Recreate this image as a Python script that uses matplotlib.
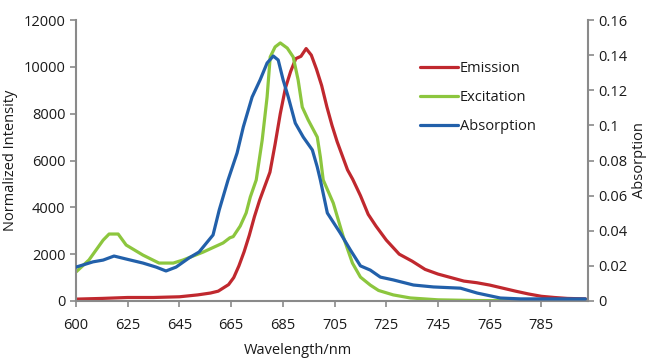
import matplotlib
matplotlib.use("Agg")
import matplotlib.pyplot as plt
import numpy as np

plt.rcParams['font.family'] = ['Open Sans', 'DejaVu Sans']

# ---- data ----
em_x = [605, 615, 625, 635, 645, 652, 657, 660, 662, 664, 666, 668, 670, 672, 674, 676, 678,
        680, 682, 684, 686, 688, 690, 692, 694, 696, 698, 700, 702, 704, 706, 708, 710, 712,
        715, 718, 721, 725, 730, 735, 740, 745, 750, 755, 760, 765, 770, 775, 780, 785, 790,
        795, 802]
em_y = [80, 110, 150, 150, 180, 260, 340, 420, 560, 700, 1000, 1500, 2100, 2800, 3600, 4300,
        4900, 5500, 6700, 8000, 9100, 9800, 10350, 10450, 10780, 10500, 9900, 9200, 8300, 7500,
        6800, 6200, 5600, 5200, 4500, 3700, 3200, 2600, 2000, 1700, 1350, 1150, 1000, 850, 780,
        680, 550, 420, 300, 200, 150, 110, 90]

ex_x = [605, 610, 615.5, 617.8, 621.3, 624.4, 630.9, 637.1, 642.6, 646.4, 654.2, 661.9, 664.5,
        665.8, 668.5, 670.8, 672.4, 674.7, 677, 678.9, 680.1, 682, 684, 686.7, 689, 690.9,
        692.5, 694.8, 698.3, 699.5, 700.6, 704.5, 708.4, 711.9, 715, 718.8, 722, 727.7, 734.3,
        745, 760, 780, 802]
ex_y = [1240, 1750, 2600, 2860, 2860, 2390, 1960, 1620, 1620, 1750, 2090, 2480, 2700, 2750,
        3200, 3760, 4440, 5170, 6870, 8710, 10420, 10850, 11020, 10800, 10420, 9440, 8280,
        7730, 7000, 6150, 5170, 4180, 2730, 1620, 1020, 680, 450, 260, 130, 50, 20, 10, 0]

ab_x = [605, 611.6, 615.5, 619.7, 624.4, 630.9, 636, 639.8, 643.7, 648.7, 652.6, 658, 660.4,
        663.8, 667.3, 669.7, 673.1, 676.2, 678.9, 681.3, 683.2, 685.1, 687.1, 689.8, 692.9,
        696.4, 698.3, 699.5, 702.2, 707.2, 711.1, 715, 718.8, 722.7, 727.7, 735.5, 743.2,
        753.7, 760.2, 769.1, 776.9, 802]
ab_y = [0.0193, 0.0223, 0.0233, 0.0256, 0.0239, 0.0216, 0.0193, 0.0171, 0.0193, 0.0245,
        0.0279, 0.0376, 0.0519, 0.0689, 0.0843, 0.0991, 0.1161, 0.1259, 0.1355, 0.1395,
        0.1372, 0.1259, 0.1161, 0.1013, 0.0933, 0.0860, 0.0763, 0.0689, 0.0501, 0.0387,
        0.0291, 0.0200, 0.0176, 0.0136, 0.0120, 0.0091, 0.0080, 0.0073, 0.0045, 0.0017,
        0.0012, 0.0012]

xtick_pos = [605, 625, 645, 665, 685, 705, 725, 745, 765, 785]
xtick_lab = ['600', '625', '645', '665', '685', '705', '725', '745', '765', '785']
ytick_left = [0, 2000, 4000, 6000, 8000, 10000, 12000]
ytick_right = [0, 0.02, 0.04, 0.06, 0.08, 0.1, 0.12, 0.14, 0.16]
ytick_right_lab = ['0', '0.02', '0.04', '0.06', '0.08', '0.1', '0.12', '0.14', '0.16']

c_red = '#c0282e'
c_green = '#8cc63e'
c_blue = '#2260aa'
spine_c = '#8a8a8a'
text_c = '#1a1a1a'

fig = plt.figure(figsize=(6.49, 3.60), dpi=100)
ax = fig.add_axes([76/649, 1-301/360, (588-76)/649, (301-20)/360])
ax2 = ax.twinx()

l1, = ax.plot(em_x, em_y, color=c_red, lw=2.3, label='Emission', solid_capstyle='round')
l2, = ax.plot(ex_x, ex_y, color=c_green, lw=2.3, label='Excitation', solid_capstyle='round')
l3, = ax2.plot(ab_x, ab_y, color=c_blue, lw=2.3, label='Absorption', solid_capstyle='round')

ax.set_xlim(605, 803)
ax.set_ylim(0, 12000)
ax2.set_ylim(0, 0.16)

ax.set_xticks(xtick_pos)
ax.set_xticklabels(xtick_lab)
ax.set_yticks(ytick_left)
ax.set_yticklabels([str(v) for v in ytick_left])
ax2.set_yticks(ytick_right)
ax2.set_yticklabels(ytick_right_lab)

for a in (ax, ax2):
    a.spines['top'].set_visible(False)
    for s in a.spines.values():
        s.set_color(spine_c)
        s.set_linewidth(1.5)
    a.tick_params(colors=spine_c, labelcolor=text_c, labelsize=10.5, length=4, width=1.2,
                  direction='out')
ax.spines['right'].set_visible(False)
ax2.spines['left'].set_visible(False)
ax2.spines['bottom'].set_visible(False)
ax.tick_params(axis='x', pad=8)

ax.set_xlabel('Wavelength/nm', fontsize=10.5, color=text_c)
ax.xaxis.set_label_coords((298-76)/512, -0.15)
ax.set_ylabel('Normalized Intensity', fontsize=10.5, color=text_c, labelpad=4)
ax2.set_ylabel('Absorption', fontsize=10.5, color=text_c, labelpad=3)

leg = fig.legend(handles=[l1, l2, l3], loc='upper left',
                 bbox_to_anchor=(420/649, 1-61/360), bbox_transform=fig.transFigure,
                 frameon=False, fontsize=10.5, handlelength=2.6, handletextpad=0.15,
                 labelspacing=0.95, borderpad=0, borderaxespad=0)
for t in leg.get_texts():
    t.set_color(text_c)

fig.savefig('out.png', dpi=100)
